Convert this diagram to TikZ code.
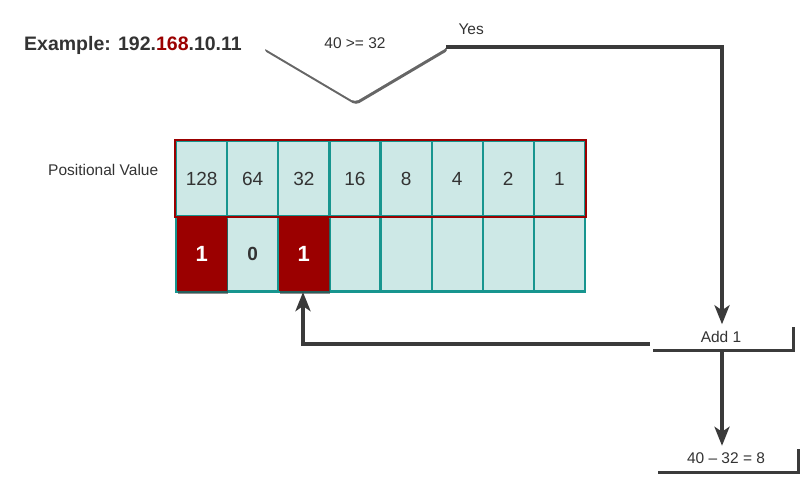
\documentclass[tikz,border=0pt]{standalone}
\usepackage{fontspec}
\setmainfont{Liberation Sans}
\usetikzlibrary{arrows.meta,shadows,shapes.geometric,calc}
\definecolor{dred}{HTML}{9B0000}
\definecolor{tealfill}{HTML}{CDE8E6}
\definecolor{tealline}{HTML}{17958F}
\definecolor{txt}{HTML}{333333}
\definecolor{arr}{HTML}{3A3A3A}
\tikzset{
  cell/.style={draw=tealline,line width=2.2pt,fill=tealfill,minimum width=51.1pt,minimum height=75pt,inner sep=0pt,anchor=north west,text=txt,font=\fontsize{19}{19}\selectfont},
  redcell/.style={cell,draw=none,fill=dred,text=white,font=\bfseries\fontsize{22}{22}\selectfont,drop shadow={shadow xshift=1.5pt,shadow yshift=-3pt,fill=black!80,opacity=0.55}},
  flow/.style={arr,line width=3.5pt,-{Stealth[length=19pt,width=15pt,inset=5pt]}},
  procbox/.style={fill=white,minimum width=142pt,minimum height=25pt,inner sep=0pt,text=txt,font=\fontsize{15.5}{15.5}\selectfont,drop shadow={shadow xshift=2.5pt,shadow yshift=-2.5pt,fill=black!85,opacity=0.9}},
  lbl/.style={text=txt,font=\fontsize{15.5}{15.5}\selectfont}
}
\begin{document}
\begin{tikzpicture}[x=1pt,y=-1pt]
\useasboundingbox (0,0) rectangle (812,489);
% example title
\node[anchor=west,text=txt,font=\bfseries\fontsize{19.5}{19.5}\selectfont,inner sep=0pt] (ex) at (24,45) {Example: 192.\textcolor{dred}{168}.10.11};
% diamond
\begin{scope}
\clip (0,0) rectangle (812,489);
\path[fill=white,rounded corners=4pt,drop shadow={shadow xshift=1pt,shadow yshift=-3pt,fill=black!80,opacity=0.75}] (262,47) -- (355,-8) -- (448,47) -- (355,102) -- cycle;
\end{scope}
\node[lbl] (dia) at (355,43) {40 >= 32};
\coordinate (diaR) at (446,47);
\node[lbl,anchor=west] (yes) at (455,29) {Yes};
% positional value label
\node[lbl,anchor=west,inner sep=0pt] (pv) at (48,170) {Positional Value};
% top row
\foreach \v [count=\i from 0] in {128,64,32,16,8,4,2,1} {
  \node[cell] (t\i) at (175+\i*51.1,140) {\v};
}
% bottom row
\foreach \i in {0,...,7} {
  \node[cell] (b\i) at (175+\i*51.1,215.5) {};
}
\draw[dred,line width=2.2pt] (t0.north west) rectangle (t7.south east);
\node[redcell,minimum width=50pt,minimum height=75pt] (r0) at ([yshift=0.6pt]b0.center) [anchor=center] {1};
\node[cell,draw=none,fill=none,font=\bfseries\fontsize{19}{19}\selectfont] (z1) at (b1.center) [anchor=center] {0};
\node[redcell,minimum width=50pt,minimum height=75pt] (r2) at ([yshift=0.6pt]b2.center) [anchor=center] {1};
% boxes
\node[procbox] (add) at (721,337) {Add 1};
\node[procbox] (sub) at (726,458.5) {40 -- 32 = 8};
% connectors
\draw[flow] (diaR) -- (722,47) -- (add.north -| 722,0);
\draw[flow] (add.west |- 0,344) -- (303,344) -- (r2.south -| 303,0);
\draw[flow] (add.south -| 722,0) -- (sub.north -| 722,0);
\end{tikzpicture}
\end{document}
